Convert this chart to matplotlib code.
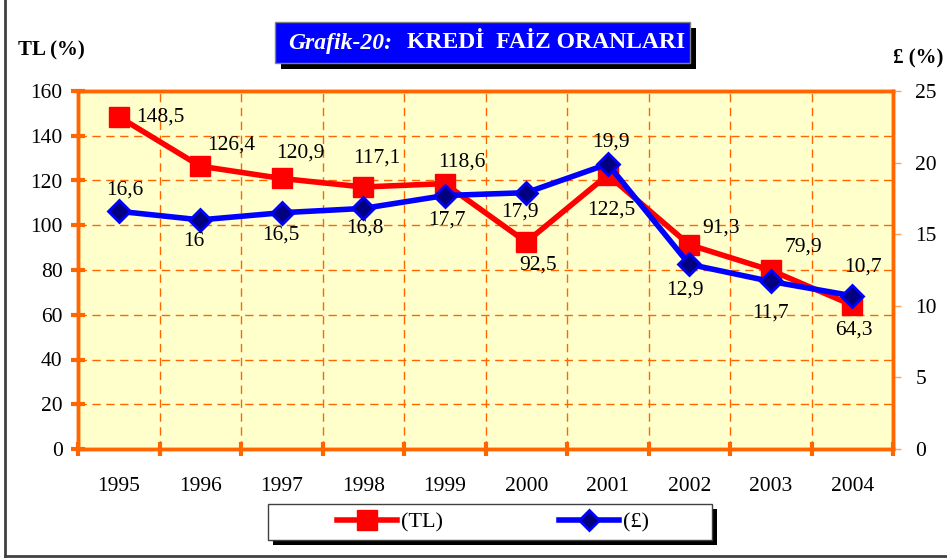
import matplotlib.pyplot as plt
from matplotlib.patches import Rectangle
from matplotlib.lines import Line2D
import numpy as np

plt.rcParams['font.family'] = ['Liberation Serif', 'DejaVu Serif']

years = ["1995", "1996", "1997", "1998", "1999", "2000", "2001", "2002", "2003", "2004"]
tl = [148.5, 126.4, 120.9, 117.1, 118.6, 92.5, 122.5, 91.3, 79.9, 64.3]
gbp = [16.6, 16.0, 16.5, 16.8, 17.7, 17.9, 19.9, 12.9, 11.7, 10.7]
tl_labels = ["148,5", "126,4", "120,9", "117,1", "118,6", "92,5", "122,5", "91,3", "79,9", "64,3"]
gbp_labels = ["16,6", "16", "16,5", "16,8", "17,7", "17,9", "19,9", "12,9", "11,7", "10,7"]

# label offsets in pixels (dx, dy), dy up
tl_off = [(42, 0), (31, 21), (19, 25), (14, 29), (17, 22), (12, -23), (4, -35), (32, 17), (33, 23), (2, -25)]
gbp_off = [(6, 21), (-6, -22), (-1, -22), (2, -20), (2, -25), (-6, -19), (3, 22), (-4, -26), (0, -32), (11, 29)]

orange = "#FF6600"
fs = 15.5
x = np.arange(len(years))

fig = plt.figure(figsize=(9.47, 5.6), dpi=100)
ax = fig.add_axes([78 / 947, 1 - 449 / 560, (893 - 78) / 947, (449 - 91) / 560])
ax.set_facecolor("#FFFFCC")
ax2 = ax.twinx()

ax.set_xlim(-0.5, 9.5)
ax.set_ylim(0, 160)
ax2.set_ylim(0, 25)

ax.set_yticks(np.arange(0, 161, 20))
ax2.set_yticks(np.arange(0, 26, 5))
ax.set_xticks(np.arange(-0.5, 10, 1))
ax.set_xticklabels([])
ax.set_xticks(x, minor=True)
ax.set_xticklabels(years, minor=True)

for s in ax.spines.values():
    s.set_color(orange)
    s.set_linewidth(2.5)
for s in ax2.spines.values():
    s.set_color(orange)
    s.set_linewidth(2.5)

ax.tick_params(axis="y", direction="inout", length=10, width=3, color=orange, labelsize=fs, pad=6)
ax.tick_params(axis="x", which="major", direction="inout", length=10, width=3, color=orange)
ax.tick_params(axis="x", which="minor", length=0, labelsize=fs, pad=20)
ax2.tick_params(axis="y", direction="out", length=6, width=1, color="#FFA060", labelsize=fs, pad=10)

for yv in np.arange(20, 160, 20):
    ax.axhline(yv, color=orange, lw=1, ls=(0, (6, 4)), zorder=0.5)
for xv in np.arange(0.5, 9, 1):
    ax.axvline(xv, color=orange, lw=1, ls=(0, (6, 4)), zorder=0.5)

ax.plot(x, tl, color="#FF0000", lw=4, marker="s", ms=15, mfc="#FF0000", mec="#FF0000", zorder=3)
ax2.plot(x, gbp, color="#0000FF", lw=4, marker="D", ms=11, mfc="#000080", mec="#0000FF", mew=2, zorder=3)

for i in range(len(years)):
    ax.annotate(tl_labels[i], (x[i], tl[i]), xytext=tl_off[i], textcoords="offset pixels",
                ha="center", va="center", fontsize=fs)
    ax2.annotate(gbp_labels[i], (x[i], gbp[i]), xytext=gbp_off[i], textcoords="offset pixels",
                 ha="center", va="center", fontsize=fs)

fig.text(18 / 947, 1 - 50 / 560, "TL (%)", fontsize=15, fontweight="bold", ha="left", va="center")
fig.text(943 / 947, 1 - 58 / 560, "£ (%)", fontsize=15, fontweight="bold", ha="right", va="center")

# title box
def fbox(x0, y0, x1, y1, **kw):
    return Rectangle((x0 / 947, 1 - y1 / 560), (x1 - x0) / 947, (y1 - y0) / 560,
                     transform=fig.transFigure, **kw)

fig.patches.append(fbox(281, 28, 696, 69, facecolor="black", edgecolor="none"))
fig.patches.append(fbox(275, 22, 690, 63, facecolor="#0000FF", edgecolor="#808080", lw=1))
fig.text(288 / 947, 1 - 43 / 560, "Grafik-20:", color="white", fontsize=17,
         fontweight="bold", fontstyle="italic", ha="left", va="center")
fig.text(685 / 947, 1 - 43 / 560, "KREDİ  FAİZ ORANLARI", color="white", fontsize=17,
         fontweight="bold", ha="right", va="center")

# legend box
fig.patches.append(fbox(273, 509, 717, 545, facecolor="black", edgecolor="none"))
fig.patches.append(fbox(268, 504, 712, 540, facecolor="white", edgecolor="#404040", lw=1))
h1 = Line2D([], [], color="#FF0000", lw=4, marker="s", ms=14, mfc="#FF0000", mec="#FF0000")
h2 = Line2D([], [], color="#0000FF", lw=4, marker="D", ms=10, mfc="#000080", mec="#0000FF", mew=2)
fig.legend([h1, h2], ["(TL)", "(£)"], loc="center", bbox_to_anchor=(493 / 947, 1 - 522 / 560),
           ncol=2, frameon=False, fontsize=16, handlelength=2.7, handletextpad=0.2,
           columnspacing=5.2)

# outer frame
fig.lines.append(Line2D([5 / 947, 5 / 947], [1, 1 - 556 / 560], transform=fig.transFigure,
                        color="#404040", lw=2))
fig.lines.append(Line2D([5 / 947, 1], [1 - 556 / 560, 1 - 556 / 560], transform=fig.transFigure,
                        color="#404040", lw=2))

fig.savefig("out.png", dpi=100)
